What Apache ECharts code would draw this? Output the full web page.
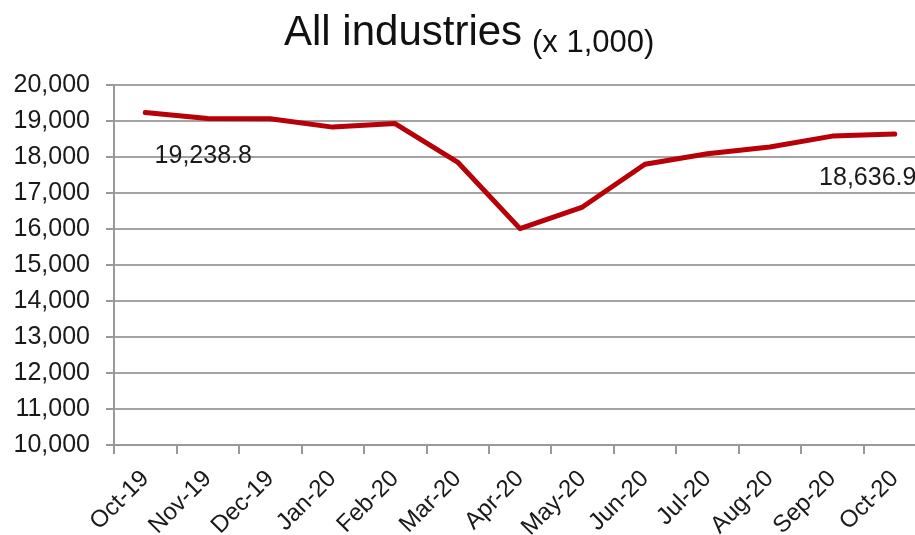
<!DOCTYPE html>
<html>
<head>
<meta charset="utf-8">
<script src="https://cdn.jsdelivr.net/npm/echarts@6/dist/echarts.min.js"></script>
<style>
  html, body { margin: 0; padding: 0; background: #fff; }
  #chart { width: 915px; height: 535px; }
</style>
</head>
<body>
<div id="chart"></div>
<script>
const titleMain = 'All industries';
const titleUnit = '(x 1,000)';
const categories = ['Oct-19', 'Nov-19', 'Dec-19', 'Jan-20', 'Feb-20', 'Mar-20', 'Apr-20',
                    'May-20', 'Jun-20', 'Jul-20', 'Aug-20', 'Sep-20', 'Oct-20'];
const employment = [19238.8, 19070, 19060, 18830, 18930, 17860, 16010,
                    16610, 17800, 18090, 18280, 18580, 18636.9];
const labelledPoints = [0, 12];
const yMin = 10000, yMax = 20000, yStep = 1000;

const FONT = '"Liberation Sans", Arial, sans-serif';
const fmtInt = v => Math.round(v).toLocaleString('en-US');
const fmtOne = v => v.toLocaleString('en-US', { minimumFractionDigits: 1, maximumFractionDigits: 1 });

const labelOffsets = { 0: [58, 44], 12: [-27, 44] };
const seriesData = employment.map((v, i) => {
  if (labelledPoints.indexOf(i) >= 0) {
    return { value: v, label: { show: true, position: 'inside', offset: labelOffsets[i] } };
  }
  return v;
});

const chart = echarts.init(document.getElementById('chart'), null, { renderer: 'canvas' });
chart.setOption({
  animation: false,
  backgroundColor: '#ffffff',
  title: [
    { text: titleMain, left: 284, top: 12, padding: 0,
      textStyle: { fontFamily: FONT, fontSize: 42, fontWeight: 'normal', color: '#111' } },
    { text: titleUnit, left: 532, top: 28, padding: 0,
      textStyle: { fontFamily: FONT, fontSize: 31, fontWeight: 'normal', color: '#111' } }
  ],
  grid: { left: 114, top: 85, width: 812, height: 360, containLabel: false, outerBoundsMode: 'none' },
  xAxis: {
    type: 'category',
    data: categories,
    boundaryGap: true,
    axisLine: { show: true, lineStyle: { color: '#999999', width: 2 } },
    axisTick: { show: true, length: 9, lineStyle: { color: '#999999', width: 2 } },
    axisLabel: {
      rotate: 45, interval: 0, margin: 30, align: 'right', verticalAlign: 'middle',
      fontFamily: FONT, fontSize: 24, color: '#1a1a1a'
    },
    splitLine: { show: false }
  },
  yAxis: {
    type: 'value',
    min: yMin, max: yMax, interval: yStep,
    axisLine: { show: true, lineStyle: { color: '#999999', width: 2 } },
    axisTick: { show: true, length: 8, lineStyle: { color: '#999999', width: 2 } },
    axisLabel: {
      margin: 24, fontFamily: FONT, fontSize: 25, color: '#1a1a1a',
      formatter: v => fmtInt(v)
    },
    splitLine: { show: true, lineStyle: { color: '#a3a3a3', width: 2 } }
  },
  series: [{
    type: 'line',
    data: seriesData,
    smooth: false,
    symbol: 'circle',
    symbolSize: 0,
    showSymbol: true,
    lineStyle: { color: '#b80008', width: 5, cap: 'round', join: 'round' },
    itemStyle: { color: '#b80008' },
    label: {
      show: false,
      fontFamily: FONT, fontSize: 25, color: '#1a1a1a',
      formatter: p => fmtOne(p.value)
    },
    emphasis: { disabled: true }
  }]
});
</script>
</body>
</html>
